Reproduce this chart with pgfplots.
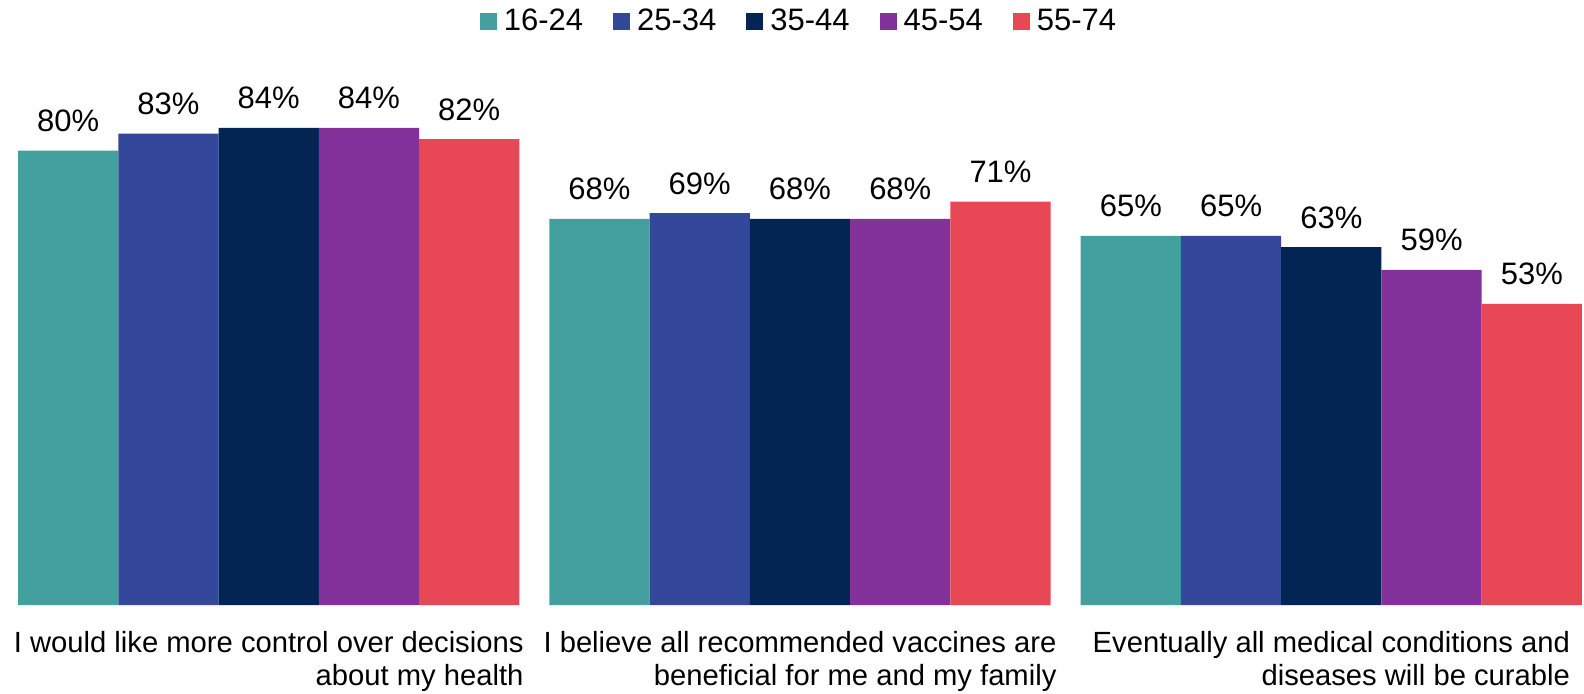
\documentclass[border=0pt]{standalone}
\usepackage{fontspec}
\setmainfont{Liberation Sans}
\usepackage{pgfplots}
\pgfplotsset{compat=1.18}
\definecolor{cA}{HTML}{43A09F}
\definecolor{cB}{HTML}{33489B}
\definecolor{cC}{HTML}{022553}
\definecolor{cD}{HTML}{82329A}
\definecolor{cE}{HTML}{E84756}
\begin{document}
\begin{tikzpicture}
\begin{axis}[
  name=ax,
  scale only axis,
  width=782pt, height=284pt,
  xmin=-0.4718, xmax=2.4718,
  ymin=0, ymax=100,
  ybar, bar width=0.1887,
  axis line style={draw=none},
  major tick length=0pt,
  ytick=\empty,
  xtick={0,1,2},
  xticklabels={{I would like more control over decisions\\about my health},
               {I believe all recommended vaccines are\\beneficial for me and my family},
               {Eventually all medical conditions and\\diseases will be curable}},
  xticklabel style={align=right, font=\fontsize{14.6}{16.5}\selectfont, inner sep=0pt, yshift=-13pt},
  /pgf/number format/assume math mode=true,
  nodes near coords={\pgfmathprintnumber{\pgfplotspointmeta}\%},
  every node near coord/.append style={font=\fontsize{15.5}{18}\selectfont, anchor=base, inner sep=0pt, yshift=9.5pt, text=black},
  legend columns=5,
  legend image code/.code={\fill[#1] (0pt,-4.25pt) rectangle (8.5pt,4.25pt); \path (10pt,0pt);},
  legend style={draw=none, fill=none, at={(0.5,1)}, anchor=center, yshift=8pt,
    font=\fontsize{15.5}{18}\selectfont,
    /tikz/every even column/.append style={column sep=13pt}},
]
\addplot[fill=cA, draw=none, bar shift=-0.3774] coordinates {(0,80) (1,68) (2,65)};
\addplot[fill=cB, draw=none, bar shift=-0.1887] coordinates {(0,83) (1,69) (2,65)};
\addplot[fill=cC, draw=none, bar shift=0] coordinates {(0,84) (1,68) (2,63)};
\addplot[fill=cD, draw=none, bar shift=0.1887] coordinates {(0,84) (1,68) (2,59)};
\addplot[fill=cE, draw=none, bar shift=0.3774] coordinates {(0,82) (1,71) (2,53)};
\legend{16-24,25-34,35-44,45-54,55-74}
\end{axis}
\pgfresetboundingbox
\path[use as bounding box] ([shift={(-9pt,-44pt)}]ax.south west) rectangle ([shift={(783pt,302.5pt)}]ax.south west);
\end{tikzpicture}
\end{document}
